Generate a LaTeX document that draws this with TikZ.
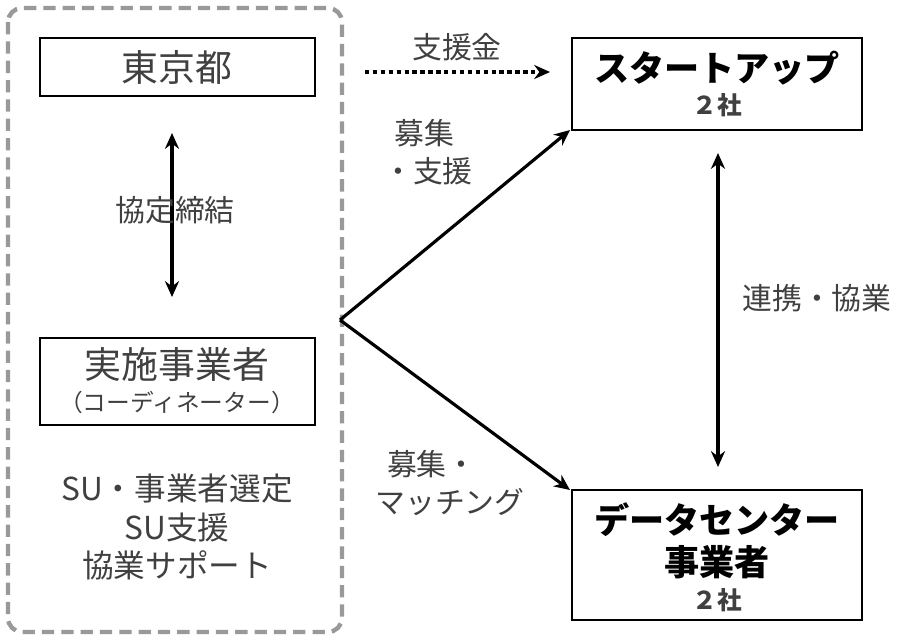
\documentclass[tikz,border=0pt]{standalone}
\usepackage{fontspec}
\setmainfont{Noto Sans CJK JP}
\usetikzlibrary{arrows.meta}
\definecolor{txt}{HTML}{404040}
\begin{document}
\begin{tikzpicture}[x=0.02cm,y=-0.02cm,
 box/.style={draw=black,line width=1.3pt,inner sep=0pt},
 lab/.style={text=txt,font=\fontsize{17}{22}\selectfont,align=center},
 arr/.style={line width=1.8pt,-{Stealth[length=9pt,width=8pt]}},
 darr/.style={line width=1.8pt,{Stealth[length=9pt,width=8pt]}-{Stealth[length=9pt,width=8pt]}}]
\useasboundingbox (0,0) rectangle (900,637);
\draw[gray!80,line width=2.5pt,dash pattern=on 7pt off 4pt,rounded corners=8pt] (8,8) rectangle (342,632);
\draw[box] (40,38) rectangle (315,96);
\node[text=txt,font=\fontsize{21}{24}\selectfont] (tokyo) at (177,67) {東京都};
\draw[box] (40,338) rectangle (315,425);
\node[text=txt,font=\fontsize{21}{24}\selectfont] (jisshi) at (177,365) {実施事業者};
\node[text=txt,font=\fontsize{13.5}{15}\selectfont] (coord) at (177,402) {（コーディネーター）};
\node[lab,font=\fontsize{18}{22}\selectfont] (su) at (177,527) {SU・事業者選定\\SU支援\\協業サポート};
\coordinate (a1) at (172,133); \coordinate (a2) at (172,297);
\draw[darr] (a1) -- (a2);
\node[lab] (kyotei) at (175,210) {協定締結};
\draw[box] (572,38) rectangle (862,130);
\node[font=\bfseries\fontsize{20}{24}\selectfont] (st) at (717,68) {スタートアップ};
\node[font=\bfseries\fontsize{14}{16}\selectfont,text=txt] (st2) at (717,105) {２社};
\draw[box] (572,490) rectangle (862,620);
\node[font=\bfseries\fontsize{20}{24}\selectfont,align=center] (dc) at (717,541) {データセンター\\事業者};
\node[font=\bfseries\fontsize{14}{16}\selectfont,text=txt] (dc2) at (717,600) {２社};
\coordinate (d1) at (365,72); \coordinate (d2) at (550,72);
\draw[line width=2.2pt,dash pattern=on 2.5pt off 2pt,-{Stealth[length=9pt,width=8pt]}] (d1) -- (d2);
\node[lab] (shienkin) at (457,47) {支援金};
\coordinate (o) at (340,320); \coordinate (t1) at (570,130); \coordinate (t2) at (570,490);
\draw[arr] (o) -- (t1);
\draw[arr] (o) -- (t2);
\node[lab,align=left] (boshu1) at (428,152) {\ \,募集\\・支援};
\node[lab,align=left] (boshu2) at (450,483) {\ \,募集・\\マッチング};
\coordinate (v1) at (718,153); \coordinate (v2) at (718,467);
\draw[darr] (v1) -- (v2);
\node[lab] (renkei) at (817,298) {連携・協業};
\end{tikzpicture}
\end{document}
